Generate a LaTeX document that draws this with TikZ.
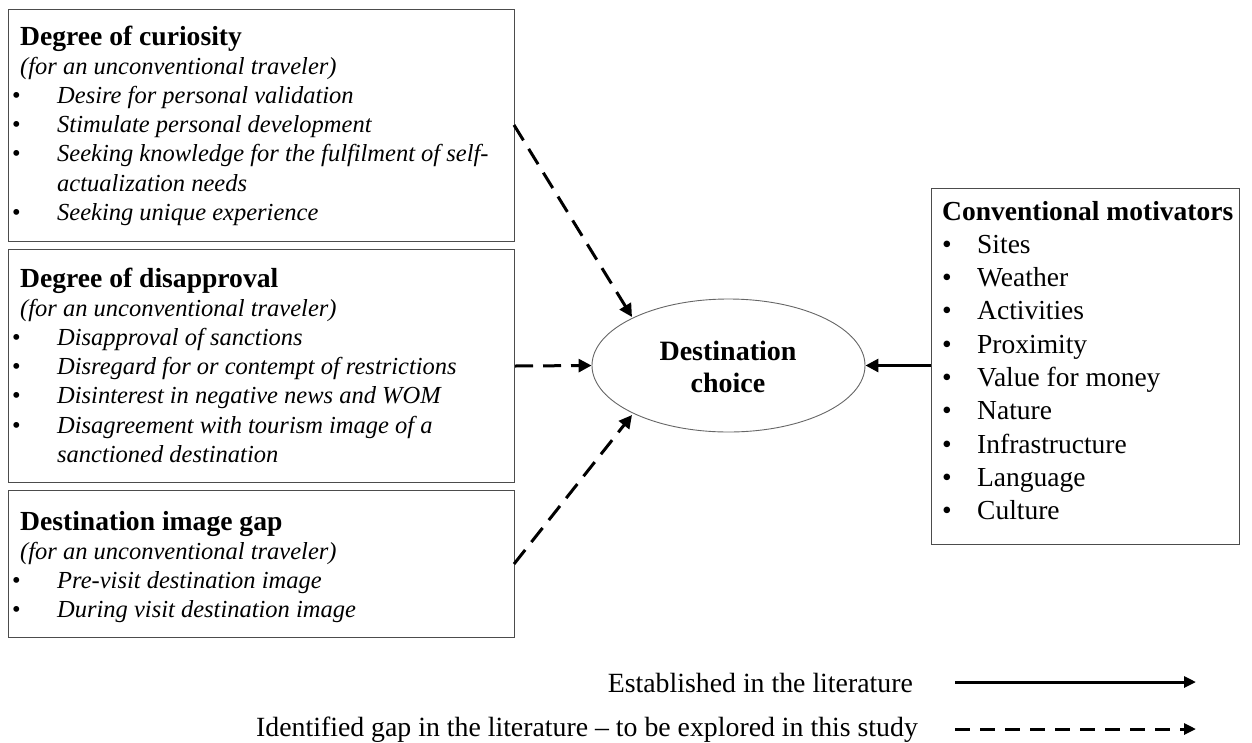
\documentclass[tikz,border=0pt]{standalone}
\usepackage{fontspec}
\setmainfont{Liberation Serif}
\usetikzlibrary{arrows.meta,shapes.geometric}
\newcommand\litm[1]{\makebox[37pt][l]{\hspace*{-8pt}\textbullet}\textit{#1}}
\newcommand\ritm[1]{\makebox[35pt][l]{\textbullet}#1}
\begin{document}
\begin{tikzpicture}[x=1pt,y=-1pt,
  box/.style={draw=black!70,line width=1pt,rectangle,inner sep=0pt,anchor=north west},
  txt/.style={anchor=base west,inner sep=0pt,align=left},
  conn/.style={line width=3pt,-{Triangle[length=13pt,width=13pt]}},
  gap/.style={conn,dash pattern=on 18pt off 10pt},
  legtxt/.style={anchor=base east,inner sep=0pt,font=\fontsize{27.8}{32}\selectfont},
]
\useasboundingbox (0,0) rectangle (1252,742);
% boxes
\node[box,minimum width=506pt,minimum height=232pt] (b1) at (8,9) {};
\node[box,minimum width=506pt,minimum height=233pt] (b2) at (8,249) {};
\node[box,minimum width=506pt,minimum height=147pt] (b3) at (8,490) {};
\node[box,minimum width=308pt,minimum height=356pt] (cm) at (931,188) {};
\node[draw=black!60,line width=0.9pt,ellipse,minimum width=273pt,minimum height=133pt,inner sep=0pt] (dc) at (728.5,365.5) {};
% texts
\node[txt] (t1) at (20,45) {\fontsize{24.5}{29.2}\selectfont\begin{tabular}[t]{@{}l@{}}
\textbf{\fontsize{27.6}{29.2}\selectfont Degree of curiosity}\\
\textit{(for an unconventional traveler)}\\
\litm{Desire for personal validation}\\
\litm{Stimulate personal development}\\
\litm{Seeking knowledge for the fulfilment of self-}\\
\hspace*{37pt}\textit{actualization needs}\\
\litm{Seeking unique experience}
\end{tabular}};
\node[txt] (t2) at (20,287) {\fontsize{24.5}{29.2}\selectfont\begin{tabular}[t]{@{}l@{}}
\textbf{\fontsize{27.6}{29.2}\selectfont Degree of disapproval}\\
\textit{(for an unconventional traveler)}\\
\litm{Disapproval of sanctions}\\
\litm{Disregard for or contempt of restrictions}\\
\litm{Disinterest in negative news and WOM}\\
\litm{Disagreement with tourism image of a}\\
\hspace*{37pt}\textit{sanctioned destination}
\end{tabular}};
\node[txt] (t3) at (20,530) {\fontsize{24.5}{29.2}\selectfont\begin{tabular}[t]{@{}l@{}}
\textbf{\fontsize{27.6}{29.2}\selectfont Destination image gap}\\
\textit{(for an unconventional traveler)}\\
\litm{Pre-visit destination image}\\
\litm{During visit destination image}
\end{tabular}};
\node[txt] (t4) at (942,220) {\fontsize{27.5}{33.3}\selectfont\begin{tabular}[t]{@{}l@{}}
\textbf{Conventional motivators}\\
\ritm{Sites}\\
\ritm{Weather}\\
\ritm{Activities}\\
\ritm{Proximity}\\
\ritm{Value for money}\\
\ritm{Nature}\\
\ritm{Infrastructure}\\
\ritm{Language}\\
\ritm{Culture}
\end{tabular}};
\node[anchor=base,inner sep=0pt,font=\bfseries\fontsize{28}{32}\selectfont] (dct1) at (728,360) {Destination};
\node[anchor=base,inner sep=0pt,font=\bfseries\fontsize{28}{32}\selectfont] (dct2) at (728,392) {choice};
% connectors
\coordinate (s1) at (514,125);
\coordinate (e1) at (632,317);
\coordinate (s3) at (514,564);
\coordinate (e3) at (632,415);
\draw[gap] (s1) -- (e1);
\draw[gap] (b2.east) -- (dc.west);
\draw[gap] (s3) -- (e3);
\draw[conn] (cm.west |- dc.east) -- (dc.east);
% legend
\node[legtxt] (l1) at (913,692) {Established in the literature};
\node[legtxt] (l2) at (918,736) {Identified gap in the literature -- to be explored in this study};
\coordinate (l1a) at (955,682);
\coordinate (l1b) at (1196,682);
\coordinate (l2a) at (955,729);
\coordinate (l2b) at (1196,729);
\draw[line width=3pt,-{Triangle[length=12pt,width=11pt]}] (l1a) -- (l1b);
\draw[line width=3pt,dash pattern=on 15pt off 10pt,-{Triangle[length=12pt,width=11pt]}] (l2a) -- (l2b);
\end{tikzpicture}
\end{document}
